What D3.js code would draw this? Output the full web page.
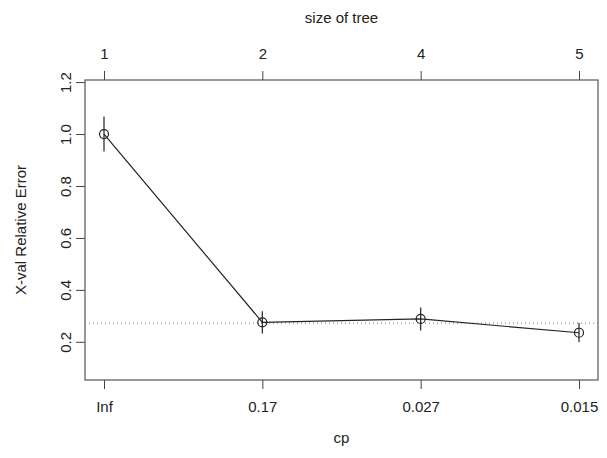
<!DOCTYPE html>
<html>
<head>
  <title>plotcp</title>
  <script src="https://d3js.org/d3.v7.min.js"></script>
  <style type="text/css">
    body { margin: 0; background-color: #ffffff; }
    svg text { font-family: 'Liberation Sans', Arial, sans-serif; fill: #222; }
  </style>
</head>
<body>
<div id="chart"></div>

<script>
  // values
  var cpLabels = ["Inf", "0.17", "0.027", "0.015"];
  var treeSizes = [1, 2, 4, 5];
  var xerror = [1.0, 0.275, 0.288, 0.235];
  var xstd = [0.067, 0.043, 0.044, 0.037];
  var yTicks = [0.2, 0.4, 0.6, 0.8, 1.0, 1.2];

  var width = 607, height = 458;
  var box = {left: 85, right: 598, top: 80, bottom: 380};
  var tickLen = 9;
  var fontSize = "15px";

  var svg = d3.select("#chart").append("svg").attr("width", width).attr("height", height);

  var idx = d3.range(1, cpLabels.length + 1);
  var n = idx.length;
  // R style 4% padding on the x range
  var x = d3.scaleLinear().domain([1 - 0.04 * (n - 1), n + 0.04 * (n - 1)]).range([box.left, box.right]);
  var y = d3.scaleLinear().domain([0.053, 1.208]).range([box.bottom, box.top]);

  // bottom axis: cp
  var xAxis = d3.axisBottom(x).tickValues(idx).tickFormat(function (d) { return cpLabels[d - 1]; })
    .tickSize(tickLen).tickSizeOuter(0).tickPadding(12);
  var gx = svg.append("g").attr("transform", "translate(0," + box.bottom + ")").call(xAxis);

  // top axis: size of tree
  var topAxis = d3.axisTop(x).tickValues(idx).tickFormat(function (d) { return treeSizes[d - 1]; })
    .tickSize(tickLen).tickSizeOuter(0).tickPadding(12);
  var gt = svg.append("g").attr("transform", "translate(0," + box.top + ")").call(topAxis);

  // left axis, labels rotated like R
  var yAxis = d3.axisLeft(y).tickValues(yTicks).tickFormat(d3.format(".1f")).tickSize(tickLen).tickSizeOuter(0);
  var gy = svg.append("g").attr("transform", "translate(" + box.left + ",0)").call(yAxis);
  gy.selectAll(".tick text")
    .attr("x", 0).attr("y", -14).attr("dy", 0)
    .attr("text-anchor", "middle")
    .attr("transform", "rotate(-90)");

  [gx, gt, gy].forEach(function (g) {
    g.select(".domain").remove();
    g.selectAll(".tick line").attr("stroke", "#444");
    g.selectAll(".tick text").style("font-size", fontSize).attr("fill", "#222");
  });

  // plot box
  svg.append("rect")
    .attr("x", box.left).attr("y", box.top)
    .attr("width", box.right - box.left).attr("height", box.bottom - box.top)
    .attr("fill", "none").attr("stroke", "#555").attr("stroke-width", 1.2);

  // min + 1 se reference line
  var best = d3.minIndex(xerror);
  var thresh = xerror[best] + xstd[best];
  svg.append("line")
    .attr("x1", box.left).attr("x2", box.right)
    .attr("y1", y(thresh)).attr("y2", y(thresh))
    .attr("stroke", "#777").attr("stroke-width", 1).attr("stroke-dasharray", "1,3");

  var pts = idx.map(function (d, i) { return {i: d, err: xerror[i], sd: xstd[i]}; });

  // error bars
  svg.selectAll("line.err").data(pts).enter().append("line").attr("class", "err")
    .attr("x1", function (d) { return x(d.i); }).attr("x2", function (d) { return x(d.i); })
    .attr("y1", function (d) { return y(d.err - d.sd); }).attr("y2", function (d) { return y(d.err + d.sd); })
    .attr("stroke", "#222").attr("stroke-width", 1.2);

  // connecting line
  var line = d3.line().x(function (d) { return x(d.i); }).y(function (d) { return y(d.err); });
  svg.append("path").datum(pts).attr("d", line)
    .attr("fill", "none").attr("stroke", "#222").attr("stroke-width", 1.2);

  // points
  svg.selectAll("circle").data(pts).enter().append("circle")
    .attr("cx", function (d) { return x(d.i); }).attr("cy", function (d) { return y(d.err); })
    .attr("r", 4.5).attr("fill", "none").attr("stroke", "#222").attr("stroke-width", 1.2);

  // titles
  var midX = (box.left + box.right) / 2;
  svg.append("text").attr("x", midX).attr("y", 23).attr("text-anchor", "middle")
    .style("font-size", fontSize).text("size of tree");
  svg.append("text").attr("x", midX).attr("y", 443).attr("text-anchor", "middle")
    .style("font-size", fontSize).text("cp");
  svg.append("text").attr("transform", "translate(26," + ((box.top + box.bottom) / 2) + ") rotate(-90)")
    .attr("text-anchor", "middle").style("font-size", fontSize).text("X-val Relative Error");
</script>

</body>
</html>
